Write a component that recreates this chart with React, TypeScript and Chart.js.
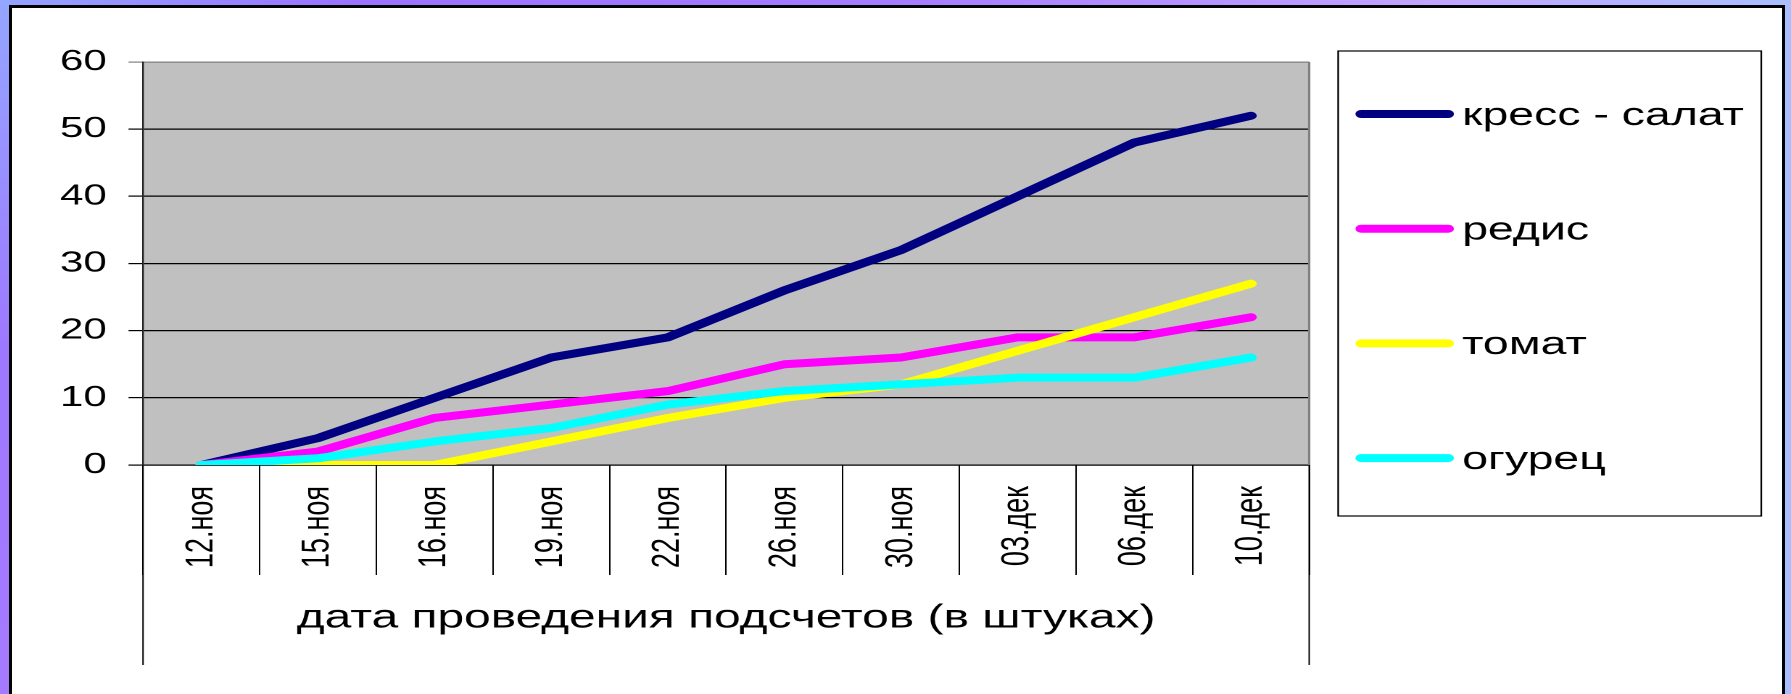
import React, { useEffect, useRef } from 'react';
import { Chart, registerables } from 'chart.js';

Chart.register(...registerables);

// ---- data ----
const categories = ['12.ноя', '15.ноя', '16.ноя', '19.ноя', '22.ноя', '26.ноя', '30.ноя', '03.дек', '06.дек', '10.дек'];
const cressValues = [0, 4, 10, 16, 19, 26, 32, 40, 48, 52];
const radishValues = [0, 2, 7, 9, 11, 15, 16, 19, 19, 22];
const tomatoValues = [0, 0, 0, 3.5, 7, 10, 12, 17, 22, 27];
const cucumberValues = [0, 1, 3.5, 5.5, 9, 11, 12, 13, 13, 16];
const seriesNames = ['кресс - салат', 'редис', 'томат', 'огурец'];
const seriesColors = ['#000080', '#FF00FF', '#FFFF00', '#00FFFF'];
const yMin = 0;
const yMax = 60;
const yStep = 10;
const axisTitle = 'дата проведения подсчетов (в штуках)';

// ---- page geometry ----
const PAGE_W = 1791;
const PAGE_H = 694;
const SX = 1.45; // horizontal stretch of the original picture
const INNER_W = Math.round(PAGE_W / SX);
const FONT = '"Liberation Sans", Arial, sans-serif';

const plotBg = {
  id: 'plotBg',
  beforeDraw(chart: any) {
    const { ctx, chartArea } = chart;
    ctx.save();
    ctx.fillStyle = '#C0C0C0';
    ctx.fillRect(chartArea.left, chartArea.top, chartArea.right - chartArea.left, chartArea.bottom - chartArea.top);
    ctx.restore();
  },
  beforeDatasetsDraw(chart: any) {
    const { ctx, chartArea } = chart;
    ctx.save();
    ctx.strokeStyle = '#808080';
    ctx.lineWidth = 1.6;
    ctx.beginPath();
    ctx.moveTo(chartArea.right, chartArea.top);
    ctx.lineTo(chartArea.right, chartArea.bottom);
    ctx.stroke();
    ctx.restore();
  },
  afterDraw(chart: any) {
    const { ctx, chartArea } = chart;
    ctx.save();
    // outer lines of the category axis
    ctx.strokeStyle = '#000';
    ctx.lineWidth = 1;
    ctx.beginPath();
    ctx.moveTo(chartArea.left, chartArea.bottom);
    ctx.lineTo(chartArea.left, 665);
    ctx.moveTo(chartArea.right, chartArea.bottom);
    ctx.lineTo(chartArea.right, 665);
    ctx.stroke();

    // legend box
    const bx = 1338 / SX;
    const by = 51;
    const bw = (1761 - 1338) / SX;
    const bh = 465;
    ctx.lineWidth = 1.2;
    ctx.strokeStyle = '#000';
    ctx.strokeRect(bx, by, bw, bh);
    chart.data.datasets.forEach((ds: any, i: number) => {
      const y = 114 + i * 114.7;
      ctx.strokeStyle = ds.borderColor;
      ctx.lineWidth = 8;
      ctx.lineCap = 'round';
      ctx.beginPath();
      ctx.moveTo(bx + 15.9, y);
      ctx.lineTo(bx + 75.8, y);
      ctx.stroke();
      ctx.fillStyle = '#000';
      ctx.font = `32px ${FONT}`;
      ctx.textAlign = 'left';
      ctx.textBaseline = 'middle';
      ctx.fillText(ds.label, bx + 85.5, y + 2);
    });
    ctx.restore();
  },
};

export default function App() {
  const canvasRef = useRef<HTMLCanvasElement | null>(null);

  useEffect(() => {
    const canvas = canvasRef.current;
    if (!canvas) return;
    const seriesValues = [cressValues, radishValues, tomatoValues, cucumberValues];
    const chart = new Chart(canvas, {
      type: 'line',
      data: {
        labels: categories,
        datasets: seriesValues.map((vals, i) => ({
          label: seriesNames[i],
          data: vals,
          borderColor: seriesColors[i],
          backgroundColor: seriesColors[i],
          borderWidth: 8,
          pointRadius: 0,
          tension: 0,
          borderCapStyle: 'round' as const,
          borderJoinStyle: 'round' as const,
          fill: false,
          order: seriesValues.length - i,
        })),
      },
      options: {
        animation: false,
        responsive: false,
        devicePixelRatio: 2,
        events: [],
        layout: { padding: { left: 0, right: INNER_W - 1309 / SX, top: 62, bottom: 0 } },
        plugins: {
          legend: { display: false },
          tooltip: { enabled: false },
        },
        scales: {
          x: {
            type: 'category',
            offset: true,
            grid: {
              display: true,
              offset: true,
              drawOnChartArea: false,
              drawTicks: true,
              tickLength: 110,
              color: '#000',
              lineWidth: 1,
            },
            border: { display: true, color: '#000', width: 1 },
            ticks: {
              autoSkip: false,
              minRotation: 90,
              maxRotation: 90,
              padding: -89,
              color: '#000',
              font: { family: FONT, size: 27 },
            },
            title: {
              display: true,
              text: axisTitle,
              color: '#000',
              font: { family: FONT, size: 33 },
              padding: { top: 0, bottom: 56 },
            },
            afterFit(scale: any) {
              scale.height = PAGE_H - 465;
            },
          },
          y: {
            min: yMin,
            max: yMax,
            ticks: {
              stepSize: yStep,
              padding: 15,
              color: '#000',
              font: { family: FONT, size: 29 },
            },
            grid: {
              color: (c: any) => (c.tick && c.tick.value === yMax ? '#808080' : '#000'),
              lineWidth: 1.2,
              drawTicks: true,
              tickLength: 10,
            },
            border: { display: true, color: '#222', width: 1.2 },
            afterFit(scale: any) {
              scale.width = 143 / SX;
            },
          },
        },
      },
      plugins: [plotBg],
    });
    return () => chart.destroy();
  }, []);

  return (
    <div
      style={{
        position: 'fixed',
        left: 0,
        top: 0,
        width: PAGE_W,
        height: PAGE_H,
        overflow: 'hidden',
        background: 'linear-gradient(90deg, #93a4ff 0%, #9a72ff 20%, #a47cff 50%, #c2a4ff 80%, #a8bfff 100%)',
      }}
    >
      <div
        style={{
          position: 'absolute',
          left: 0,
          top: 0,
          width: 10,
          height: PAGE_H,
          background: 'linear-gradient(180deg, #94a6ff 0%, #9d78ff 50%, #a57aff 100%)',
        }}
      />
      <div
        style={{
          position: 'absolute',
          left: 9,
          top: 5,
          width: 1776,
          height: PAGE_H + 20,
          boxSizing: 'border-box',
          border: '3px solid #000',
          background: '#fff',
        }}
      />
      <canvas
        ref={canvasRef}
        width={INNER_W}
        height={PAGE_H}
        style={{ position: 'absolute', left: 0, top: 0, width: PAGE_W + 'px', height: PAGE_H + 'px' }}
      />
    </div>
  );
}
